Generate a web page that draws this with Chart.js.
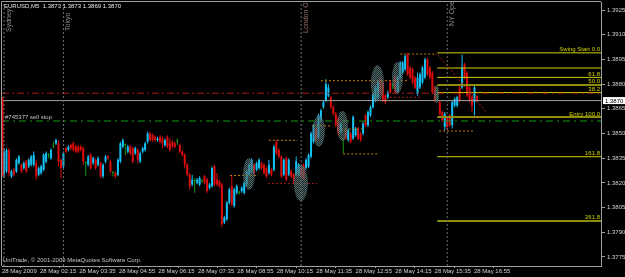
<!DOCTYPE html>
<html>
<head>
<meta charset="utf-8">
<script src="https://cdn.jsdelivr.net/npm/chart.js@4.4.0/dist/chart.umd.min.js"></script>
<style>
html, body { margin: 0; padding: 0; background: #000; overflow: hidden; }
</style>
</head>
<body>
<canvas id="chart" width="625" height="277"></canvas>
<script>
// EURUSD M5, 28 May 2009
const symbol = 'EURUSD,M5';

const opens = [
    1.3825,1.3827,1.3840,1.3824,1.3828,1.3827,1.3832,1.3831,1.3829,1.3833,
    1.3830,1.3831,1.3831,1.3832,1.3825,1.3826,1.3828,1.3833,1.3837,1.3835,
    1.3842,1.3844,1.3844,1.3834,1.3830,1.3841,1.3840,1.3843,1.3844,1.3842,
    1.3842,1.3842,1.3841,1.3832,1.3831,1.3837,1.3832,1.3834,1.3831,1.3832,
    1.3824,1.3833,1.3836,1.3833,1.3826,1.3826,1.3825,1.3833,
    1.3842,1.3843,1.3839,1.3842,1.3841,1.3838,1.3840,1.3833,1.3839,1.3840,
    1.3845,1.3850,1.3849,1.3848,1.3846,1.3848,1.3847,1.3843,1.3848,1.3844,
    1.3845,1.3844,1.3845,1.3843,1.3839,1.3837,1.3831,1.3825,1.3819,1.3821,
    1.3820,1.3819,1.3821,1.3824,1.3822,1.3817,1.3818,1.3830,1.3822,1.3821,
    1.3819,1.3796,1.3798,1.3808,1.3818,1.3806,1.3814,1.3814,
    1.3815,1.3814,1.3819,1.3825,1.3827,1.3831,1.3828,1.3829,1.3832,1.3831,
    1.3829,1.3826,1.3828,1.3828,1.3845,1.3840,1.3836,1.3825,1.3835,1.3825,
    1.3827,1.3825,1.3825,1.3825,1.3829,1.3831,1.3829,1.3830,1.3836,1.3845,
    1.3853,1.3848,1.3858,1.3866,1.3870,1.3873,1.3872,1.3866,1.3862,1.3859,
    1.3851,1.3846,1.3852,1.3846,1.3850,1.3847,1.3849,1.3853,1.3850,
    1.3850,1.3861,1.3855,1.3861,1.3866,1.3870,1.3872,1.3883,1.3881,1.3873,
    1.3872,1.3881,1.3879,1.3884,1.3875,1.3884,1.3887,1.3889,1.3898,1.3890,
    1.3889,1.3884,1.3874,1.3878,1.3881,1.3884,1.3895,1.3890,1.3887,1.3878,
    1.3874,1.3869,1.3863,1.3854,1.3860,1.3861,1.3855,1.3867,1.3867,1.3878,
    1.3878,1.3892,1.3887,1.3878,1.3872,1.3869,1.3873
];
const highs = [
    1.3841,1.3841,1.3841,1.3828,1.3829,1.3835,1.3837,1.3832,1.3833,1.3834,
    1.3835,1.3837,1.3839,1.3834,1.3830,1.3831,1.3838,1.3839,1.3838,1.3841,
    1.3845,1.3847,1.3846,1.3835,1.3839,1.3842,1.3843,1.3844,1.3845,1.3843,
    1.3843,1.3843,1.3842,1.3833,1.3837,1.3838,1.3836,1.3835,1.3836,1.3833,
    1.3832,1.3837,1.3837,1.3834,1.3827,1.3827,1.3835,1.3845,
    1.3847,1.3844,1.3843,1.3843,1.3842,1.3842,1.3841,1.3839,1.3842,1.3845,
    1.3851,1.3851,1.3850,1.3849,1.3848,1.3849,1.3848,1.3847,1.3849,1.3847,
    1.3846,1.3845,1.3847,1.3844,1.3840,1.3838,1.3832,1.3826,1.3825,1.3823,
    1.3823,1.3824,1.3822,1.3825,1.3823,1.3820,1.3830,1.3831,1.3826,1.3822,
    1.3820,1.3800,1.3809,1.3817,1.3824,1.3817,1.3819,1.3815,
    1.3818,1.3821,1.3828,1.3832,1.3835,1.3832,1.3833,1.3835,1.3833,1.3832,
    1.3830,1.3834,1.3829,1.3843,1.3846,1.3841,1.3837,1.3835,1.3836,1.3835,
    1.3828,1.3826,1.3836,1.3832,1.3830,1.3832,1.3835,1.3838,1.3851,1.3856,
    1.3854,1.3862,1.3865,1.3870,1.3883,1.3880,1.3873,1.3867,1.3863,1.3860,
    1.3857,1.3847,1.3853,1.3853,1.3851,1.3861,1.3854,1.3854,1.3851,
    1.3857,1.3862,1.3864,1.3867,1.3875,1.3879,1.3882,1.3884,1.3882,1.3874,
    1.3876,1.3882,1.3881,1.3885,1.3885,1.3894,1.3894,1.3898,1.3899,1.3891,
    1.3890,1.3885,1.3887,1.3887,1.3891,1.3896,1.3896,1.3891,1.3888,1.3879,
    1.3878,1.3870,1.3864,1.3863,1.3861,1.3862,1.3870,1.3872,1.3873,1.3879,
    1.3898,1.3893,1.3888,1.3879,1.3873,1.3879,1.3873
];
const lows = [
    1.3823,1.3826,1.3824,1.3823,1.3824,1.3826,1.3831,1.3826,1.3828,1.3826,
    1.3829,1.3830,1.3830,1.3822,1.3824,1.3825,1.3827,1.3832,1.3835,1.3834,
    1.3841,1.3843,1.3830,1.3823,1.3829,1.3838,1.3839,1.3840,1.3839,1.3838,
    1.3838,1.3839,1.3831,1.3824,1.3830,1.3828,1.3831,1.3828,1.3830,1.3823,
    1.3823,1.3832,1.3834,1.3826,1.3824,1.3823,1.3824,1.3832,
    1.3841,1.3837,1.3838,1.3837,1.3832,1.3837,1.3832,1.3832,1.3838,1.3839,
    1.3844,1.3845,1.3845,1.3845,1.3845,1.3844,1.3841,1.3842,1.3841,1.3839,
    1.3841,1.3841,1.3843,1.3838,1.3836,1.3829,1.3824,1.3816,1.3818,1.3814,
    1.3819,1.3818,1.3820,1.3819,1.3814,1.3816,1.3817,1.3818,1.3818,1.3817,
    1.3793,1.3795,1.3797,1.3807,1.3806,1.3805,1.3813,1.3813,
    1.3814,1.3813,1.3818,1.3824,1.3826,1.3825,1.3827,1.3828,1.3828,1.3825,
    1.3823,1.3825,1.3824,1.3827,1.3837,1.3835,1.3823,1.3824,1.3821,1.3824,
    1.3823,1.3819,1.3824,1.3824,1.3823,1.3822,1.3828,1.3829,1.3835,1.3844,
    1.3845,1.3847,1.3857,1.3865,1.3869,1.3872,1.3865,1.3861,1.3854,1.3849,
    1.3850,1.3838,1.3846,1.3845,1.3844,1.3846,1.3848,1.3846,1.3845,
    1.3849,1.3854,1.3854,1.3860,1.3865,1.3869,1.3871,1.3874,1.3869,1.3868,
    1.3871,1.3874,1.3877,1.3874,1.3874,1.3883,1.3886,1.3888,1.3885,1.3883,
    1.3880,1.3877,1.3873,1.3877,1.3880,1.3883,1.3885,1.3883,1.3874,1.3869,
    1.3870,1.3861,1.3857,1.3852,1.3852,1.3854,1.3853,1.3866,1.3866,1.3869,
    1.3877,1.3883,1.3872,1.3869,1.3863,1.3861,1.3869
];
const closes = [
    1.3839,1.3840,1.3826,1.3827,1.3825,1.3834,1.3836,1.3827,1.3832,1.3827,
    1.3834,1.3836,1.3837,1.3824,1.3829,1.3830,1.3837,1.3838,1.3837,1.3840,
    1.3842,1.3846,1.3833,1.3829,1.3838,1.3839,1.3842,1.3841,1.3840,1.3839,
    1.3839,1.3840,1.3833,1.3832,1.3836,1.3829,1.3835,1.3829,1.3835,1.3824,
    1.3831,1.3836,1.3835,1.3827,1.3826,1.3824,1.3834,1.3844,
    1.3846,1.3843,1.3842,1.3838,1.3833,1.3841,1.3834,1.3838,1.3841,1.3844,
    1.3850,1.3846,1.3846,1.3846,1.3847,1.3845,1.3844,1.3846,1.3842,1.3840,
    1.3842,1.3842,1.3845,1.3839,1.3837,1.3831,1.3825,1.3818,1.3822,1.3821,
    1.3822,1.3823,1.3821,1.3820,1.3815,1.3819,1.3829,1.3819,1.3819,1.3818,
    1.3795,1.3799,1.3808,1.3816,1.3807,1.3816,1.3818,1.3814,
    1.3817,1.3820,1.3827,1.3831,1.3834,1.3826,1.3832,1.3834,1.3829,1.3826,
    1.3824,1.3831,1.3825,1.3842,1.3838,1.3836,1.3824,1.3834,1.3822,1.3834,
    1.3824,1.3822,1.3833,1.3831,1.3824,1.3823,1.3834,1.3837,1.3850,1.3855,
    1.3846,1.3861,1.3864,1.3869,1.3880,1.3878,1.3866,1.3862,1.3855,1.3850,
    1.3856,1.3846,1.3847,1.3852,1.3845,1.3860,1.3853,1.3847,1.3846,
    1.3856,1.3855,1.3863,1.3866,1.3874,1.3878,1.3881,1.3875,1.3870,1.3869,
    1.3875,1.3875,1.3879,1.3875,1.3884,1.3893,1.3893,1.3897,1.3886,1.3884,
    1.3881,1.3878,1.3884,1.3886,1.3890,1.3895,1.3886,1.3884,1.3875,1.3870,
    1.3874,1.3862,1.3858,1.3862,1.3854,1.3855,1.3869,1.3871,1.3872,1.3870,
    1.3890,1.3884,1.3873,1.3870,1.3867,1.3878,1.3870
];

// time axis (bar numbers) and price axis
const xTickBars = [-0.8, 14.5, 30.4, 46.4, 62.3, 78.3, 94.2, 110.1, 126.1, 142.0, 158.0, 173.9, 189.8];
const xTickLabels = ['28 May 2009', '28 May 02:15', '28 May 03:35', '28 May 04:55', '28 May 06:15',
    '28 May 07:35', '28 May 08:55', '28 May 10:15', '28 May 11:35', '28 May 12:55',
    '28 May 14:15', '28 May 15:35', '28 May 16:55'];
const yTicks = [1.3775, 1.3790, 1.3805, 1.3820, 1.3835, 1.3850, 1.3865, 1.3880, 1.3895, 1.3910, 1.3925];

// sessions
const sessionBars = [0, 24, 120, 179];
const sessionNames = ['Sydney', 'Tokyo', 'London Open', 'NY Open'];

// orders
const stopLevel = 1.38745;
const sellStopLevel = 1.38576;
const orderText = '#745377 sell stop';

// fibonacci
const fibSwing = 1.3899;
const fibEntry = 1.3860;
const fibFromBar = 175;
const fibLevels = [0, 23.6, 38.2, 50, 61.8, 100, 161.8, 261.8];
const fibTexts = ['Swing Start 0.0', '', '61.8', '50.0', '38.2', 'Entry 100.0', '161.8', '261.8'];

// support / resistance segments
const zonePrices = [1.38983, 1.38821, 1.38546, 1.38527, 1.38459, 1.38376, 1.38245, 1.38196, 1.38720, 1.38598, 1.38515];
const zoneFrom = [160, 128, 124.4, 134.4, 107, 137, 91.3, 106.6, 155.9, 189.4, 175.7];
const zoneTo = [174.9, 162.8, 132.5, 145, 118.6, 151, 102.2, 126.4, 168, 200.3, 189.4];
const zoneKind = ['o', 'o', 'o', 'o', 'o', 'o', 'o', 'r', 'r', 'o', 'o'];
const trendBars = [175.3, 195.1];
const trendPrices = [1.38977, 1.38625];

// highlighted patterns
const markBars = [98.9, 119.9, 127.2, 136.7, 150.8, 158.9, 174.7];
const markPrices = [1.38254, 1.38199, 1.38515, 1.38546, 1.38804, 1.38840, 1.38740];
const markSpanBars = [4.8, 5.7, 4.8, 4.4, 5.3, 4.4, 2.0];
const markSpanPrice = [0.0019, 0.0022, 0.0019, 0.0018, 0.0022, 0.0019, 0.0011];

const FONT = '"Liberation Sans", Arial, sans-serif';
const BULL = '#14c2f6', BEAR = '#dc0c0c', DOJI = '#119a11';
const xMin = -0.81, xMax = 241.1, yMin = 1.37695, yMax = 1.39299;

let bars = closes.map((c, i) => i);
let last = closes.length - 1;
let candleColors = bars.map(i => closes[i] > opens[i] ? BULL : (closes[i] < opens[i] ? BEAR : DOJI));

function segment(x1, y1, x2, y2, color, dash, width) {
    return {
        type: 'line',
        data: [{x: x1, y: y1}, {x: x2, y: y2}],
        borderColor: color,
        borderWidth: width || 1,
        borderDash: dash || [],
        pointRadius: 0,
        fill: false,
        order: 0
    };
}

function fibPrice(level) {
    return fibSwing - (fibSwing - fibEntry) * level / 100;
}

let fibColors = ['#d2d200', '#d2d200', '#d2d200', '#8e8e0a', '#d2d200', '#8e8e0a', '#d2d200', '#8e8e0a'];
let fibWidths = [1, 1, 1, 2, 1, 2, 1, 2];

let lineSets = [];
sessionBars.forEach(b => lineSets.push(segment(b, yMin, b, yMax, '#707070', [2, 2])));
lineSets.push(segment(-0.6, 1.38722, -0.6, 1.38237, '#e01010', [], 2));
lineSets.push(segment(xMin, stopLevel, xMax, stopLevel, '#a81818', [7, 3, 2, 3]));
lineSets.push(segment(xMin, closes[last], xMax, closes[last], '#a0a0a0'));
lineSets.push(segment(xMin, sellStopLevel, xMax, sellStopLevel, '#139a13', [7, 4, 2, 4]));
zonePrices.forEach((p, k) => lineSets.push(
    segment(zoneFrom[k], p, zoneTo[k], p, zoneKind[k] === 'o' ? '#c87a10' : '#a01c1c', [2, 2])));
lineSets.push(segment(trendBars[0], trendPrices[0], trendBars[1], trendPrices[1], '#b02020', [2, 2]));
fibLevels.forEach((l, k) => lineSets.push(
    segment(fibFromBar, fibPrice(l), xMax, fibPrice(l), fibColors[k], [], fibWidths[k])));

// dotted fill for the pattern marks
let pat = document.createElement('canvas');
pat.width = 2; pat.height = 2;
let pc = pat.getContext('2d');
pc.fillStyle = 'rgba(105,135,135,0.8)';
pc.fillRect(0, 0, 1, 1); pc.fillRect(1, 1, 1, 1);
pc.fillStyle = 'rgba(45,70,70,0.5)';
pc.fillRect(1, 0, 1, 1); pc.fillRect(0, 1, 1, 1);

const overlay = {
    id: 'overlay',
    afterDatasetsDraw(chart) {
        let ctx = chart.ctx, a = chart.chartArea;
        let x = chart.scales.x, y = chart.scales.y;
        ctx.save();
        ctx.beginPath();
        ctx.rect(a.left, a.top, a.right - a.left, a.bottom - a.top);
        ctx.clip();

        ctx.fillStyle = ctx.createPattern(pat, 'repeat');
        markBars.forEach((b, i) => {
            let cx = x.getPixelForValue(b), cy = y.getPixelForValue(markPrices[i]);
            let rx = Math.abs(x.getPixelForValue(b + markSpanBars[i] / 2) - cx);
            let ry = Math.abs(y.getPixelForValue(markPrices[i] + markSpanPrice[i] / 2) - cy);
            ctx.beginPath();
            ctx.ellipse(cx, cy, rx, ry, 0, 0, Math.PI * 2);
            ctx.fill();
        });

        // fibo texts
        ctx.font = '6px ' + FONT;
        ctx.textAlign = 'right';
        ctx.textBaseline = 'alphabetic';
        ctx.fillStyle = '#d2d200';
        fibLevels.forEach((l, k) => {
            if (fibTexts[k]) ctx.fillText(fibTexts[k], a.right - 1, y.getPixelForValue(fibPrice(l)) - 1.5);
        });

        // session names, vertical
        let bottoms = [30, 29, 31, 24];
        let colors = ['#8a8a8a', '#8a8a8a', '#9a6c6c', '#8a8a8a'];
        ctx.font = '7px ' + FONT;
        ctx.textAlign = 'left';
        ctx.textBaseline = 'top';
        sessionBars.forEach((b, i) => {
            ctx.save();
            ctx.translate(x.getPixelForValue(b) + 1.5, a.top + bottoms[i]);
            ctx.rotate(-Math.PI / 2);
            ctx.fillStyle = colors[i];
            ctx.fillText(sessionNames[i], 0, 0);
            ctx.restore();
        });

        // texts
        ctx.font = '6px ' + FONT;
        ctx.textAlign = 'left';
        ctx.textBaseline = 'middle';
        ctx.fillStyle = '#e6e6e6';
        let f = v => v.toFixed(4);
        ctx.fillText(symbol + '  ' + f(opens[last]) + ' ' + f(highs[last]) + ' ' + f(lows[last]) + ' ' + f(closes[last]),
            a.left + 2, a.top + 4.5);
        ctx.fillStyle = '#c4c4c4';
        ctx.fillText('UniTrade, \u00a9 2001-2009 MetaQuotes Software Corp.', a.left + 1, a.bottom - 6);
        ctx.textBaseline = 'alphabetic';
        ctx.fillText(orderText, a.left + 3, y.getPixelForValue(sellStopLevel) - 2);
        ctx.restore();

        // frame top / left
        ctx.save();
        ctx.strokeStyle = '#a0a0a0';
        ctx.lineWidth = 1;
        ctx.beginPath();
        ctx.moveTo(a.left - 0.5, a.bottom);
        ctx.lineTo(a.left - 0.5, a.top - 0.5);
        ctx.lineTo(a.right, a.top - 0.5);
        ctx.stroke();

        // current price box
        let py = y.getPixelForValue(closes[last]);
        ctx.fillStyle = '#ffffff';
        ctx.fillRect(a.right + 2, py - 3.5, 22, 7);
        ctx.fillStyle = '#000000';
        ctx.font = '6px ' + FONT;
        ctx.textBaseline = 'middle';
        ctx.fillText(f(closes[last]), a.right + 4, py + 0.5);
        ctx.restore();
    }
};

let chart = new Chart(document.getElementById('chart').getContext('2d'), {
    type: 'bar',
    data: {
        datasets: [
            ...lineSets,
            {
                type: 'bar',
                data: bars.map(i => ({x: i, y: [opens[i], closes[i]]})),
                backgroundColor: candleColors,
                barThickness: 2,
                minBarLength: 1,
                grouped: false,
                borderWidth: 0,
                inflateAmount: 0,
                order: 1
            },
            {
                type: 'bar',
                data: bars.map(i => ({x: i, y: [lows[i], highs[i]]})),
                backgroundColor: candleColors,
                barThickness: 1,
                grouped: false,
                borderWidth: 0,
                inflateAmount: 0,
                order: 2
            }
        ]
    },
    options: {
        responsive: false,
        animation: false,
        devicePixelRatio: 1,
        events: [],
        layout: {padding: {left: 2, top: 2, right: 0, bottom: 0}},
        plugins: {legend: {display: false}, tooltip: {enabled: false}},
        scales: {
            x: {
                type: 'linear',
                min: xMin,
                max: xMax,
                offset: false,
                afterBuildTicks: axis => { axis.ticks = xTickBars.map(v => ({value: v})); },
                afterFit: axis => { axis.height = 11; axis.paddingLeft = 0; axis.paddingRight = 0; },
                ticks: {
                    callback: (v, i) => xTickLabels[i],
                    autoSkip: false,
                    maxRotation: 0,
                    minRotation: 0,
                    align: 'start',
                    padding: 0,
                    color: '#d2d2d2',
                    font: {family: FONT, size: 6}
                },
                grid: {drawOnChartArea: false, tickLength: 2, color: '#a0a0a0'},
                border: {display: true, color: '#a0a0a0'}
            },
            y: {
                type: 'linear',
                position: 'right',
                min: yMin,
                max: yMax,
                afterBuildTicks: axis => { axis.ticks = yTicks.map(v => ({value: v})); },
                afterFit: axis => { axis.width = 24; axis.paddingTop = 0; axis.paddingBottom = 0; },
                ticks: {
                    callback: v => v.toFixed(4),
                    padding: 2,
                    color: '#d2d2d2',
                    font: {family: FONT, size: 6}
                },
                grid: {drawOnChartArea: false, tickLength: 4, color: '#a0a0a0'},
                border: {display: true, color: '#a0a0a0'}
            }
        }
    },
    plugins: [overlay]
});
</script>
</body>
</html>
